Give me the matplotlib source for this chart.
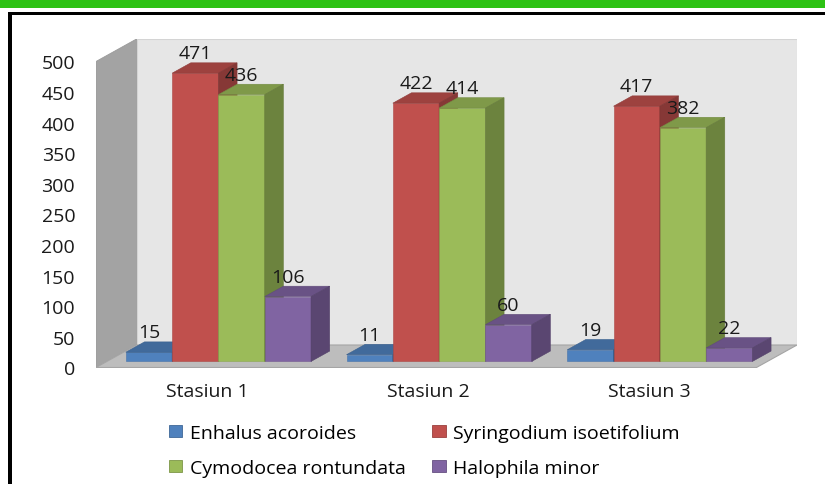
import matplotlib
matplotlib.use("Agg")
import matplotlib.pyplot as plt
from matplotlib.patches import Polygon, Rectangle, Patch
from matplotlib.colors import to_rgb
import numpy as np

# ---------------- data ----------------
categories = ["Stasiun 1", "Stasiun 2", "Stasiun 3"]
series_names = ["Enhalus acoroides", "Syringodium isoetifolium",
                "Cymodocea rontundata", "Halophila minor"]
enhalus = [15, 11, 19]
syringodium = [471, 422, 417]
cymodocea = [436, 414, 382]
halophila = [106, 60, 22]
y_ticks = [0, 50, 100, 150, 200, 250, 300, 350, 400, 450, 500]

series_values = [enhalus, syringodium, cymodocea, halophila]
colors = ["#4F81BD", "#C0504D", "#9BBB59", "#8064A2"]

# ---------------- layout (pixels) ----------------
W, H = 825, 485
plt.rcParams['font.family'] = ['Open Sans', 'DejaVu Sans']
fig = plt.figure(figsize=(W / 100, H / 100), dpi=100)

AX_L, AX_R, AX_T, AX_B = 96, 797, 40, 368.5
CAT0_PX, CAT_STEP_PX = 207.5, 220.7
PX_PER_V = 0.612
DEPTH_PX = (40.5, 22.5)
F1, F2 = 0.27, 0.73
BAR_W_PX = 46.3
FS = 14

ax = fig.add_axes([AX_L / W, 1 - AX_B / H, (AX_R - AX_L) / W, (AX_B - AX_T) / H])
xlim = ((AX_L - CAT0_PX) / CAT_STEP_PX, (AX_R - CAT0_PX) / CAT_STEP_PX)
ylim = (0, (AX_B - AX_T) / PX_PER_V)
ax.set_xlim(*xlim)
ax.set_ylim(*ylim)

ddx = DEPTH_PX[0] / CAT_STEP_PX
ddy = DEPTH_PX[1] / PX_PER_V
bw = BAR_W_PX / CAT_STEP_PX
ymax = y_ticks[-1]


def shade(c, f):
    return tuple(np.clip(np.array(to_rgb(c)) * f, 0, 1))


# walls & floor
x0w, x1w = xlim
ax.add_patch(Polygon([(x0w + ddx, ddy), (x1w, ddy), (x1w, ymax + ddy), (x0w + ddx, ymax + ddy)],
                     closed=True, facecolor="#E6E6E6", edgecolor="#D4D4D4", lw=0.8, zorder=0.5))
ax.add_patch(Polygon([(x0w, 0), (x0w, ymax), (x0w + ddx, ymax + ddy), (x0w + ddx, ddy)],
                     closed=True, facecolor="#A3A3A3", edgecolor="#9A9A9A", lw=0.6, zorder=0.6))
ax.add_patch(Polygon([(x0w, 0), (x1w - ddx, 0), (x1w, ddy), (x0w + ddx, ddy)],
                     closed=True, facecolor="#BDBDBD", edgecolor="#A5A5A5", lw=0.8, zorder=0.7))

# bars
dd_x = (F2 - F1) * ddx
dd_y = (F2 - F1) * ddy
base = F1 * ddy
k = 0
for i in range(len(categories)):
    for j, vals in enumerate(series_values):
        v = vals[i]
        c = colors[j]
        z = 2 + k * 0.01
        k += 1
        xl = i + (j - 2) * bw + F1 * ddx
        ax.bar(xl, v, width=bw, bottom=base, align='edge', color=c,
               edgecolor=shade(c, 0.9), linewidth=0.4, zorder=z)
        top = [(xl, base + v), (xl + bw, base + v), (xl + bw + dd_x, base + v + dd_y),
               (xl + dd_x, base + v + dd_y)]
        side = [(xl + bw, base), (xl + bw, base + v), (xl + bw + dd_x, base + v + dd_y),
                (xl + bw + dd_x, base + dd_y)]
        ax.add_patch(Polygon(top, closed=True, facecolor=shade(c, 0.82),
                             edgecolor=shade(c, 0.75), lw=0.4, zorder=z))
        ax.add_patch(Polygon(side, closed=True, facecolor=shade(c, 0.70),
                             edgecolor=shade(c, 0.65), lw=0.4, zorder=z))
        ax.annotate(str(v), (xl + bw / 2, base + v + dd_y), xytext=(0, 0.5),
                    textcoords='offset points', ha='center', va='bottom',
                    fontsize=FS, color="#1a1a1a", zorder=10)

ax.set_yticks(y_ticks)
ax.set_yticklabels([str(t) for t in y_ticks])
ax.set_xticks(range(len(categories)))
ax.set_xticklabels(categories)
ax.tick_params(axis='y', length=0, pad=15, labelsize=FS, labelcolor="#1a1a1a")
ax.tick_params(axis='x', length=0, pad=10.5, labelsize=FS, labelcolor="#1a1a1a")
for s in ax.spines.values():
    s.set_visible(False)
ax.set_facecolor('none')

# legend
order = [0, 2, 1, 3]
handles = [Patch(facecolor=colors[o], edgecolor=shade(colors[o], 0.8), linewidth=0.6) for o in order]
labels = [series_names[o] for o in order]
fig.legend(handles, labels, ncol=2, loc='upper left', bbox_to_anchor=(169 / W, 1 - 425 / H),
           frameon=False, fontsize=FS, handlelength=0.68, handleheight=0.6,
           handletextpad=0.4, columnspacing=1.36, labelspacing=0.85,
           borderpad=0, borderaxespad=0)

# decorations: green band and black frame
fig.add_artist(Rectangle((0, 1 - 9 / H), 1, 9 / H, transform=fig.transFigure,
                         facecolor="#2DC214", edgecolor='none'))
fig.add_artist(Rectangle((8 / W, 0), 4 / W, (H - 13) / H, transform=fig.transFigure,
                         facecolor="black", edgecolor='none'))
fig.add_artist(Rectangle((8 / W, 1 - 15.5 / H), (W - 8) / W, 2.5 / H, transform=fig.transFigure,
                         facecolor="black", edgecolor='none'))

fig.savefig("out.png", dpi=100)
